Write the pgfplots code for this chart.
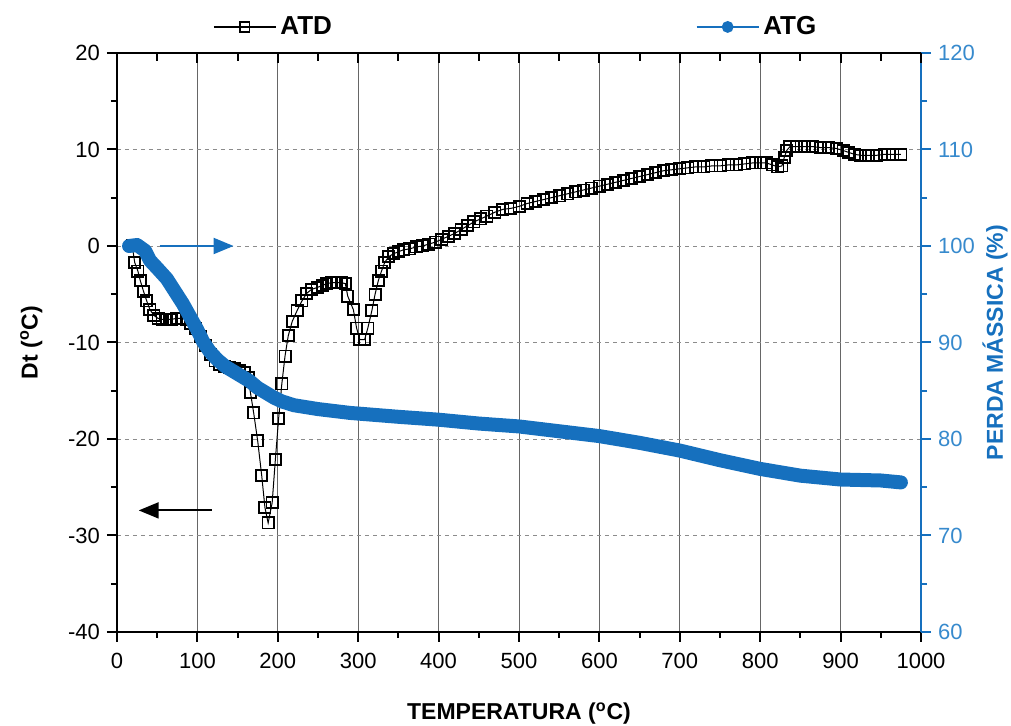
\documentclass[border=0pt]{standalone}
\usepackage{fontspec}
\setmainfont{Liberation Sans}
\usepackage{pgfplots}
\pgfplotsset{compat=1.18}
\usetikzlibrary{calc,arrows.meta}
\definecolor{atgblue}{RGB}{22,112,190}
\definecolor{ticblue}{RGB}{55,138,205}

\pgfplotstableread{
T Dt
19 0.0
22 -1.7
26 -2.6
29 -3.6
33 -4.7
37 -5.7
41 -6.6
46 -7.2
51 -7.5
56 -7.6
62 -7.6
68 -7.6
74 -7.5
80 -7.5
86 -7.6
92 -8.0
98 -8.6
104 -9.4
110 -10.3
116 -11.2
122 -11.9
128 -12.3
134 -12.5
140 -12.6
146 -12.7
152 -12.9
158 -13.1
163 -13.6
166 -15.2
170 -17.3
175 -20.2
180 -23.8
184 -27.1
188 -28.7
193 -26.6
197 -22.1
201 -17.9
205 -14.3
209 -11.4
213 -9.3
218 -7.8
224 -6.7
230 -5.7
236 -4.9
242 -4.5
249 -4.3
255 -4.1
261 -3.9
267 -3.8
273 -3.8
279 -3.8
284 -3.9
287 -5.2
294 -6.6
298 -8.5
302 -9.7
308 -9.7
312 -8.5
317 -6.7
321 -5.0
325 -3.6
329 -2.6
333 -1.7
338 -1.1
344 -0.8
350 -0.6
356 -0.4
364 -0.3
372 -0.1
380 0.0
388 0.2
396 0.4
404 0.7
412 1.0
420 1.3
428 1.7
436 2.1
444 2.5
452 2.8
460 3.1
470 3.5
480 3.8
490 3.9
500 4.1
510 4.4
520 4.6
530 4.8
540 5.0
550 5.2
560 5.4
570 5.6
580 5.8
590 6.0
600 6.2
610 6.4
620 6.6
630 6.8
640 7.0
650 7.2
660 7.4
670 7.6
680 7.8
690 7.9
700 8.0
710 8.1
720 8.2
730 8.2
740 8.3
750 8.3
760 8.4
770 8.4
780 8.5
790 8.6
800 8.6
808 8.6
815 8.4
822 8.2
827 8.3
830 9.2
833 9.9
837 10.3
845 10.3
855 10.3
865 10.3
875 10.2
885 10.2
895 10.1
903 9.9
910 9.7
917 9.5
925 9.4
935 9.4
945 9.4
955 9.5
965 9.5
975 9.5
}\atd

\pgfplotstableread{
T M
15 100.0
25 100.1
35 99.5
41 98.5
50 97.7
62 96.6
72 95.3
82 94.0
92 92.5
100 91.3
107 90.1
115 89.1
125 88.2
135 87.5
145 87.0
155 86.5
165 86.0
175 85.3
185 84.8
195 84.3
205 83.9
220 83.5
250 83.1
290 82.7
350 82.3
400 82.0
450 81.6
500 81.3
550 80.8
600 80.3
650 79.6
700 78.8
750 77.8
800 76.9
850 76.2
900 75.8
950 75.7
975 75.5
}\atg

\begin{document}
\begin{tikzpicture}
\begin{axis}[name=ax, scale only axis, width=402pt, height=289.5pt,
  xmin=0, xmax=1000, ymin=-40, ymax=20,
  xtick={0,100,...,1000}, minor xtick={50,150,...,950},
  ytick={-40,-30,...,20}, minor ytick={-35,-25,...,15},
  tick align=outside, xtick pos=bottom, ytick pos=left,
  major tick length=5pt, minor tick length=3pt,
  every tick/.style={black, line width=1pt},
  axis line style={line width=1pt},
  xmajorgrids, ymajorgrids,
  x grid style={black!60, line width=0.5pt, solid},
  y grid style={black!45, line width=0.4pt, dash pattern=on 2pt off 2pt},
  /pgf/number format/assume math mode=true,
  /pgf/number format/1000 sep={},
  tick label style={font=\fontsize{11}{13}\selectfont},
  xticklabel style={yshift=-2pt},
  label style={font=\bfseries\fontsize{11.5}{14}\selectfont},
  xlabel={TEMPERATURA (\textsuperscript{o}C)},
  xlabel style={yshift=-10pt},
  ylabel={Dt (\textsuperscript{o}C)},
  ylabel style={yshift=6pt},
  legend image code/.code={\draw[mark repeat=2,mark phase=2,#1] plot coordinates {(0pt,0pt) (15.5pt,0pt) (31pt,0pt)};},
  legend columns=2,
  legend style={at={(0.119,1.045)}, anchor=west, draw=none, fill=none, inner sep=0pt,
    font=\bfseries\fontsize{13}{15}\selectfont,
    /tikz/every even column/.append style={column sep=180pt}},
]
\addlegendimage{black, line width=0.7pt, mark=square, mark size=2.4pt, mark options={fill=white, solid, line width=0.8pt}}
\addlegendentry{ATD}
\addlegendimage{atgblue, line width=0.7pt, mark=*, mark size=2.6pt}
\addlegendentry{ATG}
\addplot[forget plot, black, line width=0.5pt, mark=square, mark size=2.8pt, mark options={fill=white, solid, line width=0.9pt}] table[x=T, y=Dt] {\atd};
\draw[atgblue, line width=1pt, -{Triangle[length=10pt,width=8pt]}] (axis cs:53,0) -- (axis cs:145,0);
\draw[black, line width=1pt, -{Triangle[length=10pt,width=8pt]}] (axis cs:118,-27.4) -- (axis cs:27,-27.4);
\end{axis}

\begin{axis}[scale only axis, width=402pt, height=289.5pt,
  xmin=0, xmax=1000, ymin=60, ymax=120,
  axis x line=none, axis y line*=right,
  ytick={60,70,...,120}, minor ytick={65,75,...,115},
  tick align=outside,
  major tick length=5pt, minor tick length=3pt,
  every tick/.style={atgblue, line width=1pt},
  axis line style={atgblue, line width=1pt},
  /pgf/number format/assume math mode=true,
  yticklabel style={font=\fontsize{11}{13}\selectfont, text=ticblue},
  ylabel style={font=\bfseries\fontsize{11.5}{14}\selectfont, text=atgblue, yshift=3pt},
  ylabel={PERDA MÁSSICA (\%)},
]
\addplot[forget plot, atgblue, line width=7pt, line cap=round, line join=round] table[x=T, y=M] {\atg};
\end{axis}

\begin{axis}[scale only axis, width=402pt, height=289.5pt,
  xmin=0, xmax=1000, ymin=0, ymax=1,
  axis y line=none, axis x line*=top,
  xtick={0,100,...,1000}, minor xtick={50,150,...,950},
  xticklabels={}, tick align=inside,
  major tick length=5pt, minor tick length=4pt,
  every tick/.style={black, line width=1pt},
  axis line style={line width=1pt},
]
\end{axis}

\pgfresetboundingbox
\path ($(ax.south west)+(-58.5pt,-47pt)$) rectangle ($(ax.north east)+(45pt,26.5pt)$);
\end{tikzpicture}
\end{document}
